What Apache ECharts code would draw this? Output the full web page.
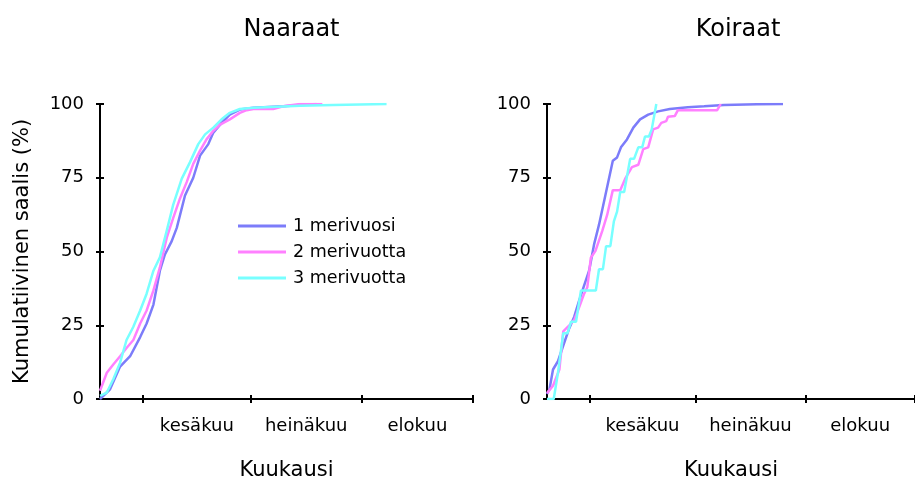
<!DOCTYPE html>
<html>
<head>
<meta charset="utf-8">
<script src="https://cdn.jsdelivr.net/npm/echarts@6/dist/echarts.min.js"></script>
<style>
  html, body { margin: 0; padding: 0; background: #fff; }
  #chart { width: 915px; height: 486px; }
</style>
</head>
<body>
<div id="chart"></div>
<script>
// Day-of-year (May 20 = 140) and cumulative catch share (%)
const panelTitles = ['Naaraat', 'Koiraat'];
const seriesNames = ['1 merivuosi', '2 merivuotta', '3 merivuotta'];
const seriesColors = ['#7c7cfa', '#ff80ff', '#78ffff'];

// Month boundaries (Jun 1, Jul 1, Aug 1, Sep 1) and month label positions
const monthStarts = [152, 182, 213, 244];
const monthMids = [167, 197.5, 228.5];
const monthNames = ['kesäkuu', 'heinäkuu', 'elokuu'];

// Naaraat (females)
const femaleSea1 = [
  [140, 0], [142.8, 3.3], [145.6, 11], [148.4, 14.5], [151.2, 21], [153, 25.6],
  [154.9, 32], [156.7, 43.5], [158.1, 49], [160, 53.5], [161.4, 58], [163.7, 69],
  [166, 75], [167.9, 82.5], [170.2, 86.4], [171.6, 90.3], [173.9, 93.6],
  [176.2, 96.4], [179, 98.1], [182.8, 98.7], [191.1, 99.2], [200.4, 100]
];
const femaleSea2 = [
  [140, 2.8], [141.9, 8.9], [143.7, 11.7], [145.6, 14.5], [147.4, 17.3],
  [149.3, 20], [151.2, 25.6], [153, 30], [154.9, 36.8], [156.7, 44.6],
  [158.6, 54.6], [160.4, 61.3], [162.3, 68], [164.2, 73.6], [166, 79.7],
  [167.9, 84.2], [169.7, 88], [171.6, 90.9], [173.5, 93], [176.2, 94.8],
  [179, 97], [180.9, 97.9], [182.8, 98.3], [188.3, 98.3], [191.1, 99.2],
  [195.8, 100], [202, 100]
];
const femaleSea3 = [
  [140, 1.1], [141.9, 2.2], [143.7, 6.7], [145.6, 12.3], [147.4, 20],
  [149.3, 24.5], [151.2, 30], [153, 35.7], [154.9, 43.5], [156.7, 48],
  [158.6, 57], [160.4, 65.8], [162.8, 74.7], [165.1, 80.3], [167.4, 86.4],
  [169.3, 89.7], [171.6, 92], [173.9, 94.8], [176.2, 97], [179, 98.3],
  [182.8, 98.7], [195.8, 99.4], [205, 99.7], [219.9, 100]
];

// Koiraat (males)
const maleSea1 = [
  [140, 1.7], [140.7, 3.3], [141.7, 10], [143.1, 12.8], [144.5, 17.8],
  [146.3, 24], [147.7, 27.9], [149.1, 33.4], [150.5, 38.5], [151.9, 43.5],
  [153.3, 52.4], [154.7, 59.1], [156.5, 69.1], [158.6, 80.8], [159.8, 81.9],
  [160.9, 85.3], [162.6, 88], [164.4, 92], [166.3, 94.8], [168.6, 96.4],
  [171.4, 97.5], [174.7, 98.3], [179.8, 98.9], [184.4, 99.2], [190, 99.7],
  [199.3, 99.9], [206.7, 100]
];
const maleSea2 = [
  [140, 2], [141.7, 4.5], [143.5, 10], [144.6, 22.9], [146.3, 25],
  [147.7, 26.8], [149.1, 31.2], [150.5, 35.7], [151.4, 37.9], [152.4, 47.9],
  [153.7, 50.2], [155.6, 56.9], [157, 62.4], [158.6, 70.8], [160.7, 70.8],
  [162.1, 74.7], [164, 78.6], [165.8, 79.4], [167.2, 84.7], [168.6, 85.3],
  [170, 91.4], [171.4, 92], [172.3, 93.6], [173.7, 94.2], [174.2, 95.7],
  [176.1, 95.9], [177, 97.9], [188.1, 97.9], [189.1, 100]
];
const maleSea3 = [
  [140, 0], [141.9, 0], [143.1, 8.9], [144.6, 22.3], [145.8, 22.3],
  [146.8, 26.2], [148.2, 26.2], [149.6, 36.8], [153.8, 36.8], [154.7, 44],
  [155.8, 44], [156.7, 51.8], [157.9, 51.8], [158.9, 60.2], [159.8, 63.5],
  [160.7, 70.2], [161.8, 70.2], [163.5, 81.4], [164.6, 81.4], [165.8, 85.3],
  [166.9, 85.3], [167.7, 89], [168.8, 89], [169.6, 91.4], [170.9, 100]
];

const panelData = [
  [femaleSea1, femaleSea2, femaleSea3],
  [maleSea1, maleSea2, maleSea3]
];

const FONT = 'DejaVu Sans';
const BLACK = '#000';

const grids = [
  { left: 100, top: 104, width: 373, height: 299 },
  { left: 547, top: 104, width: 372, height: 299 }
];
const panelCenters = [286.5, 733];

const xAxes = [];
const yAxes = [];
grids.forEach((g, i) => {
  // main x axis: line, outward ticks, month labels, name
  xAxes.push({
    type: 'value', gridIndex: i, min: 140, max: 244, position: 'bottom',
    axisLine: { lineStyle: { color: BLACK, width: 2 } },
    axisTick: { show: true, length: 4, customValues: monthStarts, lineStyle: { color: BLACK, width: 2 } },
    axisLabel: {
      customValues: monthMids, margin: 18, color: BLACK, fontFamily: FONT, fontSize: 18,
      formatter: v => monthNames[monthMids.indexOf(v)] || ''
    },
    splitLine: { show: false },
    name: 'Kuukausi', nameLocation: 'middle', nameGap: 61,
    nameTextStyle: { color: BLACK, fontFamily: FONT, fontSize: 21 }
  });
  // companion x axis: inward half of the tick marks
  xAxes.push({
    type: 'value', gridIndex: i, min: 140, max: 244, position: 'bottom',
    axisLine: { show: false },
    axisTick: { show: true, inside: true, length: 4, customValues: monthStarts, lineStyle: { color: BLACK, width: 2 } },
    axisLabel: { show: false }, splitLine: { show: false }
  });
  yAxes.push({
    type: 'value', gridIndex: i, min: 0, max: 100, interval: 25, position: 'left',
    axisLine: { show: true, lineStyle: { color: BLACK, width: 2 } },
    axisTick: { show: true, length: 4, lineStyle: { color: BLACK, width: 2 } },
    axisLabel: { margin: 16, color: BLACK, fontFamily: FONT, fontSize: 18 },
    splitLine: { show: false },
    name: i === 0 ? 'Kumulatiivinen saalis (%)' : '',
    nameLocation: 'middle', nameGap: 67, nameRotate: 90,
    nameTextStyle: { color: BLACK, fontFamily: FONT, fontSize: 21 }
  });
  yAxes.push({
    type: 'value', gridIndex: i, min: 0, max: 100, interval: 25, position: 'left',
    axisLine: { show: false },
    axisTick: { show: true, inside: true, length: 4, lineStyle: { color: BLACK, width: 2 } },
    axisLabel: { show: false }, splitLine: { show: false }
  });
});

const series = [];
panelData.forEach((sets, p) => {
  sets.forEach((pts, k) => {
    series.push({
      name: seriesNames[k], type: 'line',
      xAxisIndex: p * 2, yAxisIndex: p * 2,
      data: pts, symbol: 'none', smooth: false,
      lineStyle: { color: seriesColors[k], width: 2.5 },
      itemStyle: { color: seriesColors[k] },
      z: 3 + k
    });
  });
});

const chart = echarts.init(document.getElementById('chart'), null, { renderer: 'canvas' });
chart.setOption({
  animation: false,
  backgroundColor: '#fff',
  title: panelTitles.map((t, i) => ({
    text: t, left: panelCenters[i], top: 13, textAlign: 'center',
    textStyle: { color: BLACK, fontFamily: FONT, fontSize: 24, fontWeight: 'normal' }
  })),
  legend: {
    data: seriesNames, orient: 'vertical', left: 233, top: 212,
    icon: 'rect', itemWidth: 48, itemHeight: 3, itemGap: 8,
    textStyle: { color: BLACK, fontFamily: FONT, fontSize: 17.5, padding: [0, 0, 0, 2] }
  },
  grid: grids,
  xAxis: xAxes,
  yAxis: yAxes,
  series: series
});
</script>
</body>
</html>
